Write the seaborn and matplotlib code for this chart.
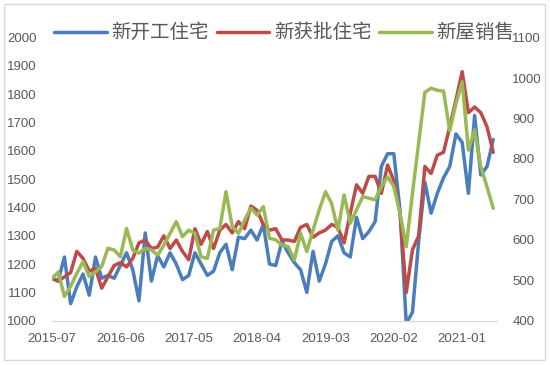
import matplotlib
matplotlib.use("Agg")
import matplotlib.pyplot as plt
import numpy as np
import pandas as pd
import seaborn as sns
from matplotlib.patches import Rectangle

# Monthly series, 2015-07 onwards
months = pd.period_range("2015-07", periods=72, freq="M").strftime("%Y-%m").tolist()

# 新开工住宅 (left axis)
starts = [1150, 1140, 1225, 1060, 1120, 1165, 1090, 1225, 1150, 1160,
          1150, 1195, 1240, 1180, 1070, 1310, 1140, 1230, 1190, 1240,
          1200, 1145, 1160, 1240, 1200, 1160, 1175, 1240, 1270, 1180,
          1295, 1290, 1320, 1285, 1340, 1200, 1195, 1280, 1240, 1205,
          1180, 1100, 1245, 1140, 1200, 1280, 1300, 1240, 1225, 1365,
          1290, 1315, 1350, 1545, 1590, 1590, 1390, 990, 1030, 1280,
          1490, 1380, 1450, 1505, 1545, 1660, 1630, 1450, 1725, 1515,
          1545, 1640]

# 新获批住宅 (left axis)
approvals = [1150, 1140, 1155, 1170, 1245, 1220, 1175, 1185, 1115, 1155,
             1195, 1205, 1190, 1220, 1275, 1285, 1255, 1260, 1300, 1255,
             1285, 1245, 1215, 1325, 1270, 1315, 1255, 1320, 1340, 1310,
             1350, 1325, 1405, 1390, 1340, 1320, 1325, 1285, 1285, 1280,
             1330, 1340, 1295, 1310, 1320, 1340, 1330, 1275, 1380, 1480,
             1450, 1510, 1510, 1450, 1550, 1495, 1380, 1100, 1250, 1300,
             1545, 1520, 1585, 1595, 1685, 1780, 1880, 1735, 1755, 1735,
             1685, 1595]

# 新屋销售 (right axis)
sales = [505, 520, 460, 485, 517, 546, 509, 521, 534, 579,
         575, 558, 628, 575, 567, 579, 575, 562, 587, 616,
         645, 608, 624, 616, 558, 554, 624, 628, 719, 633,
         616, 649, 678, 661, 682, 604, 600, 587, 583, 550,
         616, 571, 624, 674, 719, 690, 624, 711, 641, 674,
         707, 703, 699, 732, 756, 732, 666, 583, 715, 840,
         965, 975, 970, 968, 870, 937, 991, 822, 872, 781,
         731, 678]

left_ticks = list(range(1000, 2001, 100))
right_ticks = list(range(400, 1101, 100))

blue = "#4a7ebb"
red = "#be4b48"
green = "#98b954"
text_grey = "#595959"
line_grey = "#d9d9d9"

sns.set_style("white")
plt.rcParams["font.family"] = ["Liberation Sans", "Noto Sans CJK SC", "DejaVu Sans"]

fig = plt.figure(figsize=(5.5, 3.66), dpi=100)
ax = fig.add_axes([0.0945, 0.1238, 0.8091, 0.7732])
ax2 = ax.twinx()

x = np.arange(len(months))
sns.lineplot(x=x, y=starts, ax=ax, color=blue, lw=2.5, label="新开工住宅", legend=False)
sns.lineplot(x=x, y=approvals, ax=ax, color=red, lw=2.5, label="新获批住宅", legend=False)
sns.lineplot(x=x, y=sales, ax=ax2, color=green, lw=2.5, label="新屋销售", legend=False)

ax.set_xlim(0, len(months) - 0.4)
ax.set_ylim(1000, 2000)
ax2.set_ylim(400, 1100)
ax.set_yticks(left_ticks)
ax2.set_yticks(right_ticks)
ax.set_xticks(x[::11])
ax.set_xticklabels(months[::11])

for a in (ax, ax2):
    for s in ("top", "left", "right"):
        a.spines[s].set_visible(False)
    a.spines["bottom"].set_color(line_grey)
    a.tick_params(axis="y", length=0, labelsize=9.5, labelcolor=text_grey, pad=11)
ax.tick_params(axis="x", length=4, color=line_grey, labelsize=9.5, labelcolor=text_grey, pad=5)

handles = ax.get_lines() + ax2.get_lines()
fig.legend(handles, [h.get_label() for h in handles], loc="center",
           bbox_to_anchor=(0.517, 0.91), ncol=3, frameon=False,
           prop={"family": ["Noto Sans CJK SC"], "size": 14},
           handlelength=2.7, handletextpad=0.25, columnspacing=0.4,
           labelcolor=text_grey)

fig.patches.append(Rectangle((4 / 550, 6 / 366), 541 / 550, 356 / 366,
                             transform=fig.transFigure, fill=False,
                             edgecolor=line_grey, lw=1))

fig.savefig("out.png", dpi=100)
